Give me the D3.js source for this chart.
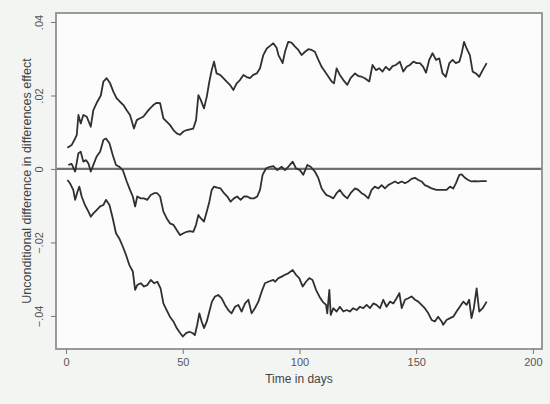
<!DOCTYPE html>
<html>
<head>
<meta charset="utf-8">
<script src="https://cdn.jsdelivr.net/npm/d3@7"></script>
<style>
  html, body { margin: 0; padding: 0; background: #f3f5f3; }
  svg { display: block; font-family: "Liberation Sans", Arial, sans-serif; }
</style>
</head>
<body>
<div id="chart"></div>
<script>
const width = 550;
const height = 404;

// upper confidence bound, [day, effect]
const upperBand = [
  [0.6, .0058], [2.4, .0065], [3.9, .0083], [4.6, .0093], [5.3, .0147], [6.3, .0124],
  [7.4, .0147], [8.9, .0142], [10.6, .0115], [11.7, .0160], [13.4, .0183], [14.9, .0200],
  [16, .0238], [17.4, .0247], [18.9, .0233], [20.3, .0210], [21.7, .0192], [23.1, .0183],
  [24.6, .0174], [26, .0160], [27.4, .0147], [29.1, .0110], [30.3, .0133], [31.7, .0138],
  [33.1, .0142], [34.8, .0156], [36, .0165], [37.4, .0174], [38.8, .0180], [40.3, .0179],
  [41.7, .0138], [43.1, .0129], [44.5, .0120], [46, .0106], [47.4, .0097], [48.8, .0093],
  [50.3, .0102], [51.7, .0106], [53.1, .0108], [54.5, .0110], [55.7, .0133], [56.7, .0201],
  [57.7, .0188], [59.1, .0165], [60.3, .0197], [61.4, .0238], [62.4, .0269], [63.4, .0292],
  [64.5, .0260], [66, .0256], [67.4, .0247], [68.8, .0238], [70.2, .0229], [71.7, .0215],
  [73.1, .0233], [74.5, .0242], [76, .0256], [77.4, .0250], [78.8, .0247], [80.2, .0256],
  [81.7, .0260], [83.1, .0274], [84.5, .0310], [86, .0328], [87.4, .0335], [88.8, .0342],
  [90.2, .0330], [91, .0310], [92.8, .0288], [93.8, .0319], [95.2, .0346], [96.6, .0344],
  [98.1, .0333], [99.5, .0324], [100.9, .0310], [102.4, .0319], [103.8, .0326], [105.2, .0324],
  [106.6, .0319], [108.1, .0297], [109.5, .0278], [110.9, .0265], [112.4, .0251], [113.8, .0238],
  [114.8, .0233], [115.9, .0274], [117.3, .0256], [118.8, .0242], [120.5, .0229], [121.9, .0247],
  [123.8, .0260], [125.2, .0253], [126.6, .0251], [128, .0247], [129.9, .0238], [131.3, .0283],
  [132.8, .0269], [134.2, .0274], [135.6, .0265], [137, .0278], [138.5, .0269], [139.9, .0280],
  [141.3, .0283], [143, .0292], [144.5, .0265], [145.9, .0278], [147.3, .0283], [148.8, .0292],
  [150.2, .0288], [151.6, .0288], [153, .0278], [154.2, .0262], [155.6, .0297], [157, .0315],
  [158.5, .0297], [159.9, .0301], [161.3, .0260], [162.7, .0251], [164.2, .0288], [165.6, .0297],
  [167, .0288], [168.5, .0292], [169.5, .0315], [170.5, .0346], [171.6, .0328], [173, .0310],
  [174.2, .0265], [175.6, .0260], [177, .0251], [178.5, .0269], [180.2, .0288]
];

// point estimate, [day, effect]
const estimate = [
  [1, .0011], [2.4, .0014], [3.9, -.0007], [5.3, .0043], [6.3, .0047], [7.4, .0020],
  [8.6, .0024], [9.6, .0015], [10.6, -.0007], [11.7, .0011], [13.1, .0034], [14.6, .0047],
  [16, .0079], [17.1, .0083], [18.6, .0070], [20, .0038], [21.4, .0011], [22.8, .0006],
  [24.3, -.0003], [26, -.0034], [27.4, -.0057], [28.6, -.0075], [29.6, -.0102], [30.5, -.0075],
  [32, -.0080], [33.4, -.0080], [34.8, -.0084], [36.3, -.0071], [37.7, -.0066], [39.1, -.0066],
  [40.3, -.0075], [41.7, -.0116], [43.1, -.0134], [44.5, -.0148], [46, -.0152], [47.4, -.0166],
  [48.8, -.0180], [50.3, -.0175], [51.7, -.0171], [53.1, -.0169], [54.5, -.0171], [55.7, -.0152],
  [56.7, -.0125], [57.7, -.0134], [59.1, -.0143], [60.3, -.0116], [61.4, -.0089], [62.4, -.0057],
  [63.4, -.0048], [64.8, -.0051], [66.2, -.0053], [67.7, -.0066], [69.1, -.0075], [70.5, -.0089],
  [71.9, -.0080], [73.3, -.0075], [74.8, -.0084], [76.2, -.0075], [77.6, -.0075], [79.1, -.0080],
  [80.5, -.0080], [81.9, -.0075], [83.1, -.0057], [84.2, -.0016], [85.7, .0002], [87.4, .0006],
  [88.8, .0008], [90.5, -.0003], [92.4, .0006], [93.8, -.0003], [95.2, .0006], [97.1, .0020],
  [98.5, .0002], [100.2, -.0003], [101.6, -.0016], [103.4, .0011], [104.8, .0006], [106.6, -.0007],
  [108.1, -.0025], [109.5, -.0053], [110.9, -.0066], [111.6, -.0071], [113.1, -.0075], [114.5, -.0080],
  [115.9, -.0066], [117.3, -.0057], [118.8, -.0071], [120.5, -.0080], [121.9, -.0066], [123.8, -.0053],
  [125.2, -.0057], [126.6, -.0066], [128, -.0071], [129.5, -.0080], [130.9, -.0057], [132.3, -.0048],
  [133.8, -.0053], [135.2, -.0044], [136.6, -.0053], [138, -.0044], [139.5, -.0039], [140.9, -.0034],
  [142.3, -.0039], [143.8, -.0034], [145.2, -.0039], [146.6, -.0034], [148, -.0027], [149.5, -.0024],
  [150.9, -.0030], [152.3, -.0034], [153.7, -.0044], [155.2, -.0048], [156.6, -.0053], [158.7, -.0057],
  [160.9, -.0057], [163, -.0057], [164.5, -.0048], [165.9, -.0053], [167, -.0039], [168.5, -.0016],
  [169.5, -.0015], [170.9, -.0024], [172.3, -.0030], [173.7, -.0034], [175.2, -.0033], [176.6, -.0034],
  [178, -.0033], [180.2, -.0033]
];

// lower confidence bound, [day, effect]
const lowerBand = [
  [0.6, -.0030], [1.7, -.0039], [3.1, -.0057], [3.9, -.0084], [4.9, -.0062], [5.7, -.0048],
  [6.7, -.0075], [8.1, -.0098], [9.6, -.0116], [10.6, -.0130], [11.7, -.0121], [13.1, -.0112],
  [14.6, -.0102], [16, -.0098], [17.1, -.0084], [18.6, -.0098], [20, -.0134], [21.4, -.0175],
  [22.8, -.0189], [24.3, -.0211], [25.7, -.0234], [27.1, -.0261], [28.6, -.0279], [29.6, -.0329],
  [30.5, -.0316], [32, -.0311], [33.4, -.0320], [34.8, -.0316], [36.3, -.0302], [37.7, -.0311],
  [39.1, -.0307], [40.5, -.0325], [41.7, -.0366], [43.1, -.0384], [44.5, -.0402], [46, -.0415],
  [47.4, -.0433], [48.5, -.0443], [50, -.0456], [51.4, -.0447], [52.9, -.0443], [54.3, -.0447],
  [55.2, -.0452], [56.2, -.0424], [57.1, -.0393], [58.1, -.0415], [59.1, -.0433], [60.3, -.0415],
  [61.4, -.0388], [62.5, -.0361], [63.8, -.0347], [65.2, -.0343], [66.7, -.0352], [68.1, -.0370],
  [69.5, -.0384], [70.9, -.0393], [72.4, -.0375], [73.8, -.0370], [75.2, -.0388], [76.7, -.0366],
  [78.1, -.0356], [79.5, -.0393], [80.9, -.0379], [82.4, -.0361], [83.8, -.0334], [85.2, -.0311],
  [86.6, -.0307], [88.8, -.0302], [89.5, -.0307], [91, -.0297], [92.4, -.0293], [93.8, -.0288],
  [95.2, -.0284], [97.1, -.0275], [98.5, -.0288], [99.9, -.0297], [101.4, -.0320], [102.8, -.0307],
  [104.2, -.0297], [105.6, -.0302], [107.1, -.0329], [108.5, -.0347], [109.9, -.0361], [111.4, -.0370],
  [111.9, -.0393], [112.8, -.0329], [113.4, -.0397], [114.5, -.0379], [115.9, -.0388], [117.3, -.0375],
  [118.8, -.0388], [120.2, -.0384], [121.6, -.0388], [123, -.0379], [124.5, -.0384], [125.9, -.0375],
  [127.3, -.0379], [128.8, -.0370], [130.2, -.0379], [131.6, -.0366], [133, -.0370], [134.5, -.0379],
  [135.9, -.0356], [137.3, -.0375], [138.8, -.0361], [140.2, -.0366], [141.6, -.0352], [142.8, -.0338],
  [143.8, -.0379], [145.2, -.0356], [146.6, -.0352], [148, -.0347], [149.5, -.0356], [150.9, -.0361],
  [152.3, -.0370], [153.7, -.0379], [155.2, -.0393], [156.6, -.0411], [158, -.0415], [159.4, -.0402],
  [160.9, -.0415], [161.6, -.0424], [163, -.0411], [164.5, -.0406], [165.9, -.0402], [167.3, -.0388],
  [168.7, -.0375], [170.2, -.0361], [171.6, -.0370], [172.7, -.0356], [173.7, -.0406], [174.7, -.0379],
  [175.9, -.0325], [177, -.0388], [178.5, -.0379], [180.2, -.0361]
];

const xTicks = [0, 50, 100, 150, 200];
const yTicks = [-.04, -.02, 0, .02, .04];

const margin = {top: 13, right: 8, bottom: 55, left: 56};

const svg = d3.select("#chart")
  .append("svg")
  .attr("width", width)
  .attr("height", height);

svg.append("rect")
  .attr("width", width)
  .attr("height", height)
  .attr("fill", "#f3f5f3");

const x = d3.scaleLinear()
  .domain([-4.3, 203.9])
  .range([margin.left, width - margin.right]);

const y = d3.scaleLinear()
  .domain([-.049, .04245])
  .range([height - margin.bottom, margin.top]);

// plot region
svg.append("rect")
  .attr("x", margin.left)
  .attr("y", margin.top)
  .attr("width", width - margin.left - margin.right)
  .attr("height", height - margin.top - margin.bottom)
  .attr("fill", "#fbfcfb");

// zero reference line
svg.append("line")
  .attr("x1", margin.left)
  .attr("x2", width - margin.right)
  .attr("y1", y(0))
  .attr("y2", y(0))
  .attr("stroke", "#6e716e")
  .attr("stroke-width", 2.2);

const line = d3.line()
  .x(d => x(d[0]))
  .y(d => y(d[1]));

svg.selectAll("path.series")
  .data([upperBand, estimate, lowerBand])
  .enter()
  .append("path")
  .attr("class", "series")
  .attr("d", line)
  .attr("fill", "none")
  .attr("stroke", "#2f312f")
  .attr("stroke-width", 1.8)
  .attr("stroke-linejoin", "round");

// frame
svg.append("rect")
  .attr("x", margin.left)
  .attr("y", margin.top)
  .attr("width", width - margin.left - margin.right)
  .attr("height", height - margin.top - margin.bottom)
  .attr("fill", "none")
  .attr("stroke", "#8e918e")
  .attr("stroke-width", 1.8);

const fmtY = d => d === 0 ? "0" : d3.format(".2f")(d).replace("0.", ".");

// axes
const xAxis = svg.append("g")
  .attr("transform", `translate(0,${height - margin.bottom})`)
  .call(d3.axisBottom(x).tickValues(xTicks).tickSize(5).tickPadding(4));

const yAxis = svg.append("g")
  .attr("transform", `translate(${margin.left},0)`)
  .call(d3.axisLeft(y).tickValues(yTicks).tickSize(5).tickFormat(fmtY));

[xAxis, yAxis].forEach(g => {
  g.select(".domain").remove();
  g.selectAll(".tick line").attr("stroke", "#777");
  g.selectAll(".tick text")
    .attr("fill", "#555")
    .style("font-size", "11px");
});

// Stata-style vertical y labels
yAxis.selectAll(".tick text")
  .attr("x", 0)
  .attr("dy", 0)
  .attr("text-anchor", "middle")
  .attr("transform", "translate(-13,0) rotate(-90)");

svg.append("text")
  .attr("x", (margin.left + width - margin.right) / 2)
  .attr("y", 383)
  .attr("text-anchor", "middle")
  .attr("fill", "#444")
  .style("font-size", "12px")
  .text("Time in days");

svg.append("text")
  .attr("transform", `translate(31,${(margin.top + height - margin.bottom) / 2}) rotate(-90)`)
  .attr("text-anchor", "middle")
  .attr("fill", "#444")
  .style("font-size", "12.5px")
  .text("Unconditional difference in differences effect");
</script>
</body>
</html>
